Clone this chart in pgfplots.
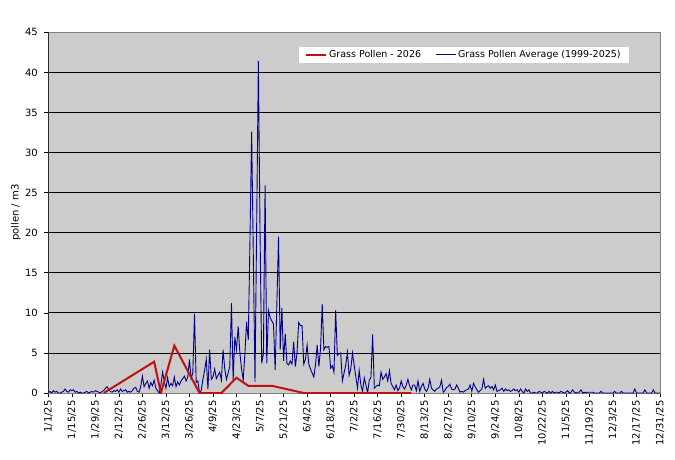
\documentclass[border=0pt]{standalone}
\usepackage{fontspec}
\setmainfont{DejaVu Sans}
\usepackage{pgfplots}
\pgfplotsset{compat=1.18}
\definecolor{plotgray}{RGB}{204,204,204}
\definecolor{pred}{RGB}{192,16,16}
\definecolor{pblue}{RGB}{0,0,140}
\begin{document}
\begin{tikzpicture}
\path[use as bounding box] (-48.3pt,-66pt) rectangle (626.7pt,393pt);
\begin{axis}[
  scale only axis, width=611.7pt, height=360.7pt,
  xmin=0, xmax=364, ymin=0, ymax=45,
  ytick={0,5,...,45},
  xtick={0,14,...,364},
  xticklabels={1/1/25,1/15/25,1/29/25,2/12/25,2/26/25,3/12/25,3/26/25,4/9/25,4/23/25,5/7/25,5/21/25,6/4/25,6/18/25,7/2/25,7/16/25,7/30/25,8/13/25,8/27/25,9/10/25,9/24/25,10/8/25,10/22/25,11/5/25,11/19/25,12/3/25,12/17/25,12/31/25},
  /pgf/number format/assume math mode=true,
  ticklabel style={font=\fontsize{10}{12}\selectfont},
  x tick label style={rotate=90, anchor=east},
  y tick label style={xshift=-3pt},
  xtick pos=bottom, ytick pos=left,
  tick align=outside, major tick length=4pt,
  tick style={black, line width=0.6pt},
  ymajorgrids, grid style={black, line width=0.7pt},
  axis line style={draw=gray, line width=0.6pt},
  axis background/.style={fill=plotgray},
  ylabel={pollen / m3},
  ylabel style={font=\fontsize{10}{12}\selectfont, at={(axis description cs:-0.053,0.5)}, anchor=center},
  legend columns=2,
  legend style={at={(0.949,0.960)}, anchor=north east, draw=none, fill=white,
    font=\fontsize{9.5}{11}\selectfont, inner xsep=6pt, inner ysep=1.5pt,
    /tikz/every even column/.append style={column sep=12pt}},
  legend image code/.code={\draw[#1] (0pt,0pt) -- (20pt,0pt);},
]
\addplot[pblue, line width=0.9pt, forget plot] table[row sep=\\, x expr=\coordindex, y index=0] {
v\\
0\\0.2\\0\\0.3\\0.1\\0.2\\0\\0\\0.1\\0.2\\0.5\\0.2\\0.1\\0.4\\0.3\\0.4\\0.1\\0.2\\0\\0.1\\0\\0\\0.1\\0.2\\0\\0.1\\0.2\\0.1\\0.3\\0.2\\0.1\\
0\\0.2\\0.3\\0.6\\0.8\\0.4\\0.2\\0.1\\0.3\\0.2\\0.4\\0.1\\0.5\\0.2\\0.3\\0.4\\0.1\\0.2\\0.1\\0.3\\0.6\\0.7\\0.2\\0.1\\0.8\\
2.1\\0.8\\1.2\\1.5\\0.6\\1.3\\0.9\\1.6\\0.6\\0.3\\0\\1.0\\2.6\\1.5\\0.6\\1.9\\0.8\\1.2\\0.9\\2.0\\0.8\\1.4\\1.0\\1.5\\1.8\\2.1\\1.5\\2.0\\4.2\\1.8\\2.5\\9.9\\1.3\\1.5\\0\\
0.3\\1.7\\2.8\\4.2\\0.5\\5.4\\1.7\\2.0\\3.0\\1.8\\2.2\\2.6\\1.6\\5.4\\3.0\\1.7\\2.5\\3.3\\11.2\\1.6\\7.0\\5.4\\8.3\\5.0\\3.0\\1.6\\5.0\\8.9\\6.6\\19.0\\
32.6\\17.0\\1.4\\21.0\\41.4\\20.0\\3.7\\4.9\\25.9\\3.7\\10.3\\9.4\\9.0\\8.6\\2.9\\11.0\\19.5\\5.4\\10.6\\4.0\\7.4\\3.7\\3.5\\4.0\\3.6\\6.4\\3.3\\5.0\\8.8\\8.4\\
8.4\\3.6\\4.2\\6.0\\3.6\\3.0\\2.5\\2.0\\3.5\\6.0\\3.3\\5.5\\11.1\\5.4\\5.8\\5.7\\5.8\\3.1\\3.4\\2.6\\10.3\\4.7\\4.9\\5.0\\1.5\\2.5\\3.5\\5.1\\2.2\\3.0\\5.0\\3.5\\2.0\\0.6\\2.8\\1.0\\0.2\\1.9\\1.0\\0\\1.6\\2.0\\7.3\\0.6\\0.8\\1.0\\0.9\\2.6\\1.7\\2.0\\
2.4\\1.5\\2.8\\1.2\\0.8\\0.4\\1.0\\0.3\\0.6\\1.5\\0.8\\0.5\\1.0\\1.7\\0.9\\0.4\\1.0\\1.0\\0.3\\1.5\\0.2\\0.8\\1.2\\0.5\\0.2\\0.6\\1.7\\0.6\\0.4\\0.2\\0.5\\0.6\\0.8\\1.6\\0.1\\0.3\\0.7\\0.8\\1.1\\0.5\\0.4\\0.5\\1.0\\0.6\\0.1\\0.2\\0.1\\0.3\\0.4\\0.5\\
1.0\\0.2\\1.2\\0.8\\0.4\\0.1\\0.3\\0.5\\1.7\\0.6\\0.8\\0.9\\0.6\\0.8\\0.4\\1.0\\0.2\\0.3\\0.4\\0.6\\0.2\\0.5\\0.3\\0.4\\0.2\\0.3\\0.5\\0.3\\0.4\\0.1\\0.5\\0.2\\0\\0.5\\0.2\\0.4\\0\\0\\0.1\\0\\0\\0.2\\0.1\\0\\0.2\\0.1\\0\\0.2\\0\\0.2\\
0\\0.1\\0.1\\0\\0.2\\0.1\\0\\0.1\\0.3\\0\\0.1\\0.4\\0.1\\0\\0.1\\0.1\\0.4\\0\\0.1\\0\\0.1\\0.1\\0.1\\0.1\\0\\0\\0\\0\\0.2\\0\\0\\0\\0\\0\\0\\0\\0.2\\0\\0\\0\\0.2\\0\\0\\0\\0\\0\\0\\0\\0.5\\0\\0\\0\\0\\0\\0.4\\0\\0\\0\\0\\0.4\\0\\0\\0\\0\\
};
\addplot[pred, line width=2pt] coordinates {
(33,0) (63,3.9) (67,0) (75,5.9) (90,0) (103,0) (112,1.9) (119,0.9) (133,0.9) (152,0) (216,0)
};
\addlegendentry{Grass Pollen - 2026}
\addlegendimage{pblue, line width=0.9pt}
\addlegendentry{Grass Pollen Average (1999-2025)}
\draw[black, line width=0.7pt] (rel axis cs:0,0) -- (rel axis cs:0,1);
\end{axis}
\end{tikzpicture}
\end{document}
